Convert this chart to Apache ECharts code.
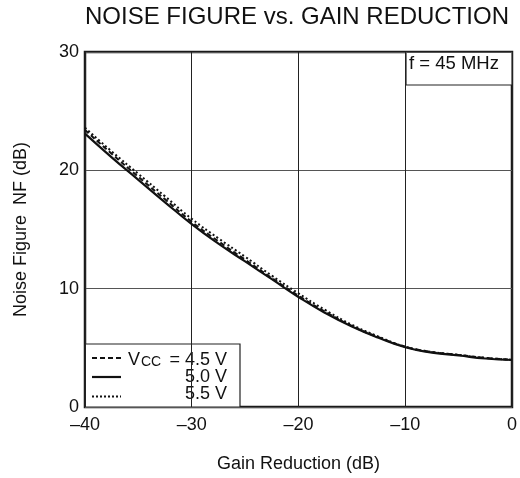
<!DOCTYPE html>
<html>
<head>
<meta charset="utf-8">
<script src="https://cdn.jsdelivr.net/npm/echarts@6/dist/echarts.min.js"></script>
<style>
  html, body { margin: 0; padding: 0; background: #fff; }
  #main { width: 520px; height: 478px; }
</style>
</head>
<body>
<div id="main"></div>
<script>
// gain reduction (dB)
var gainReduction = [-40, -37.5, -35, -32.5, -30, -27.5, -25, -22.5, -20, -17.5, -15, -12.5, -10, -7.5, -5, -2.5, 0];
// noise figure (dB) per supply voltage
var nf45 = [23.4, 21.4, 19.45, 17.55, 15.65, 14.0, 12.45, 10.9, 9.4, 8.05, 6.85, 5.9, 5.1, 4.65, 4.4, 4.15, 4.0];
var nf50 = [23.1, 21.1, 19.2, 17.3, 15.45, 13.8, 12.3, 10.8, 9.3, 7.95, 6.8, 5.85, 5.05, 4.6, 4.35, 4.1, 3.97];
var nf55 = [23.6, 21.6, 19.7, 17.8, 15.9, 14.25, 12.7, 11.1, 9.6, 8.2, 6.95, 5.95, 5.1, 4.65, 4.4, 4.15, 4.0];
var xTicks = [-40, -30, -20, -10, 0];
var yTicks = [0, 10, 20, 30];

function pairs(ys) {
  return gainReduction.map(function (x, i) { return [x, ys[i]]; });
}

var font = 'Liberation Sans, Arial, sans-serif';
var chart = echarts.init(document.getElementById('main'));

chart.setOption({
  animation: false,
  title: {
    text: 'NOISE FIGURE vs. GAIN REDUCTION',
    left: 292, top: 0, textAlign: 'center',
    textStyle: { fontFamily: font, fontSize: 24, fontWeight: 'normal', color: '#111' }
  },
  grid: {
    left: 85, top: 52, width: 427, height: 355,
    show: true, borderColor: '#1a1a1a', borderWidth: 2.5, backgroundColor: 'transparent'
  },
  xAxis: {
    type: 'value', min: -40, max: 0, interval: 10,
    axisLine: { show: false }, axisTick: { show: false },
    splitLine: { lineStyle: { color: '#222', width: 1 } },
    axisLabel: {
      margin: 9, color: '#111', fontFamily: font, fontSize: 18,
      formatter: function (v) { return xTicks.indexOf(v) >= 0 ? String(v).replace('-', '\u2013') : ''; }
    },
    name: 'Gain Reduction (dB)', nameLocation: 'middle', nameGap: 48,
    nameTextStyle: { color: '#111', fontFamily: font, fontSize: 18 }
  },
  yAxis: {
    type: 'value', min: 0, max: 30, interval: 10,
    axisLine: { show: false }, axisTick: { show: false },
    splitLine: { lineStyle: { color: '#555', width: 1 } },
    axisLabel: {
      margin: 6, color: '#111', fontFamily: font, fontSize: 18,
      formatter: function (v) { return yTicks.indexOf(v) >= 0 ? String(v) : ''; }
    },
    name: 'Noise Figure  NF (dB)', nameLocation: 'middle', nameGap: 55, nameRotate: 90,
    nameTextStyle: { color: '#111', fontFamily: font, fontSize: 18 }
  },
  series: [
    { name: '4.5 V', type: 'line', smooth: true, symbol: 'none', data: pairs(nf45),
      lineStyle: { color: '#111', width: 2, type: [5, 3] } },
    { name: '5.0 V', type: 'line', smooth: true, symbol: 'none', data: pairs(nf50),
      lineStyle: { color: '#111', width: 2.2, type: 'solid' } },
    { name: '5.5 V', type: 'line', smooth: true, symbol: 'none', data: pairs(nf55),
      lineStyle: { color: '#111', width: 2, type: [2, 2.5] } }
  ],
  graphic: [
    // frequency note box
    { type: 'rect', shape: { x: 406, y: 52, width: 106, height: 33 },
      style: { fill: '#fff', stroke: '#222', lineWidth: 1.2 } },
    { type: 'text',
      style: { x: 409, y: 64, text: 'f = 45 MHz', font: '18.5px ' + font, fill: '#111',
        textAlign: 'left', textVerticalAlign: 'middle' } },
    // legend box
    { type: 'rect', shape: { x: 85, y: 344, width: 155, height: 63 },
      style: { fill: '#fff', stroke: '#222', lineWidth: 1.2 } },
    { type: 'line', shape: { x1: 92, y1: 358, x2: 121, y2: 358 },
      style: { stroke: '#111', lineWidth: 2, lineDash: [5, 3] } },
    { type: 'line', shape: { x1: 92, y1: 377, x2: 121, y2: 377 },
      style: { stroke: '#111', lineWidth: 2.2 } },
    { type: 'line', shape: { x1: 92, y1: 396.5, x2: 121, y2: 396.5 },
      style: { stroke: '#111', lineWidth: 2, lineDash: [2, 2] } },
    { type: 'text',
      style: { x: 128, y: 360, text: 'V', font: '18px ' + font, fill: '#111',
        textAlign: 'left', textVerticalAlign: 'middle' } },
    { type: 'text',
      style: { x: 141, y: 362, text: 'CC', font: '14px ' + font, fill: '#111',
        textAlign: 'left', textVerticalAlign: 'middle' } },
    { type: 'text',
      style: { x: 227, y: 360, text: '= 4.5 V', font: '18px ' + font, fill: '#111',
        textAlign: 'right', textVerticalAlign: 'middle' } },
    { type: 'text',
      style: { x: 227, y: 377.5, text: '5.0 V', font: '18px ' + font, fill: '#111',
        textAlign: 'right', textVerticalAlign: 'middle' } },
    { type: 'text',
      style: { x: 227, y: 394.5, text: '5.5 V', font: '18px ' + font, fill: '#111',
        textAlign: 'right', textVerticalAlign: 'middle' } }
  ]
});
</script>
</body>
</html>
